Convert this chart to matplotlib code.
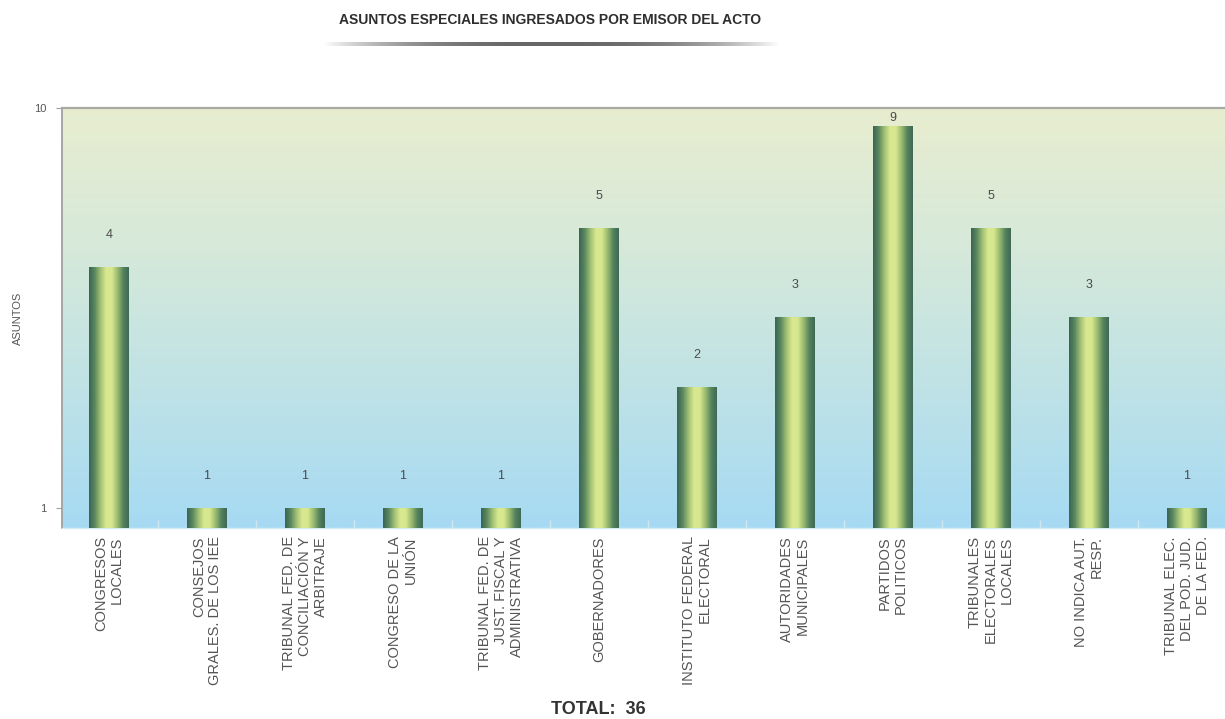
import numpy as np
import matplotlib
matplotlib.use("Agg")
import matplotlib.pyplot as plt
from matplotlib.colors import LinearSegmentedColormap

# Data
categories = [
    "CONGRESOS\nLOCALES",
    "CONSEJOS\nGRALES. DE LOS IEE",
    "TRIBUNAL FED. DE\nCONCILIACIÓN Y\nARBITRAJE",
    "CONGRESO DE LA\nUNIÓN",
    "TRIBUNAL FED. DE\nJUST. FISCAL Y\nADMINISTRATIVA",
    "GOBERNADORES",
    "INSTITUTO FEDERAL\nELECTORAL",
    "AUTORIDADES\nMUNICIPALES",
    "PARTIDOS\nPOLITICOS",
    "TRIBUNALES\nELECTORALES\nLOCALES",
    "NO INDICA AUT.\nRESP.",
    "TRIBUNAL ELEC.\nDEL POD. JUD.\nDE LA FED.",
]
asuntos = [4, 1, 1, 1, 1, 5, 2, 3, 9, 5, 3, 1]
y_ticks = [1, 10]
y_tick_labels = ["1", "10"]
title = "ASUNTOS ESPECIALES INGRESADOS POR EMISOR DEL ACTO"
y_label = "ASUNTOS"
total_label = "TOTAL:  36"

SANS = ["Liberation Sans", "DejaVu Sans"]

W, H = 1225, 719
fig = plt.figure(figsize=(W / 100, H / 100), dpi=100)
fig.patch.set_facecolor("white")

pos = [62 / W, 1 - 528 / H, 1 - 62 / W, 420 / H]

# Gradient plot background (blue at the bottom, pale yellow-green at the top)
bg_ax = fig.add_axes(pos, zorder=0)
bg_cmap = LinearSegmentedColormap.from_list(
    "bg", ["#a6daf3", "#bfe2e6", "#d6e9da", "#e8edcf"])
bg_ax.imshow(np.linspace(0, 1, 256).reshape(-1, 1), cmap=bg_cmap,
             origin="lower", aspect="auto", extent=[0, 1, 0, 1])
bg_ax.set_axis_off()

ax = fig.add_axes(pos, zorder=1)
ax.patch.set_alpha(0)
ax.set_yscale("log")
base = 0.89
top = 10
ax.set_ylim(base, top)
ax.set_xlim(-0.48, 11.39)

# Cylinder-shaded bars built from vertical strips
bar_w = 0.41
n_strips = 40
bar_cmap = LinearSegmentedColormap.from_list(
    "bar", ["#3a6452", "#5a8760", "#9fbf72", "#d8e890", "#d6e78e",
            "#9aba6f", "#55835d", "#3c6855"])
t = (np.arange(n_strips) + 0.5) / n_strips
strip_colors = [bar_cmap(v) for v in t]
span = np.log10(top) - np.log10(base)
plot_px = 420
for i, v in enumerate(asuntos):
    xs = i + (t - 0.5) * bar_w
    ax.bar(xs, [v - base] * n_strips, bottom=base,
           width=bar_w / n_strips * 1.08, color=strip_colors,
           linewidth=0, zorder=3)
    # value label above the bar, kept inside the plot frame
    frac = (np.log10(v) - np.log10(base)) / span
    off_px = min(32, max((1 - frac) * plot_px - 10, 0))
    ax.annotate(str(v), (i, v), xytext=(0, off_px * 0.72),
                textcoords="offset points", ha="center", va="center",
                fontsize=9, color="#4a4a4a", family=SANS, zorder=4)

# Axes styling
ax.spines["right"].set_visible(False)
ax.spines["top"].set_color("#a9a9a4")
ax.spines["top"].set_linewidth(1.6)
ax.spines["left"].set_color("#a0a0a0")
ax.spines["left"].set_linewidth(1.3)
ax.spines["bottom"].set_color("#d5ecf4")
ax.spines["bottom"].set_linewidth(1.0)

ax.set_yticks(y_ticks)
ax.set_yticklabels(y_tick_labels, fontsize=8, color="#555555", family=SANS)
ax.yaxis.set_minor_locator(matplotlib.ticker.NullLocator())
ax.tick_params(axis="y", length=4, color="#a0a0a0", pad=7)

ax.set_xticks(range(len(categories)))
ax.set_xticklabels(categories, rotation=90, ha="center", va="top",
                   multialignment="right", fontsize=10.5, color="#555555",
                   family=SANS, linespacing=1.2)
ax.tick_params(axis="x", length=0, pad=6)
ax.set_xticks(np.arange(len(categories) - 1) + 0.5, minor=True)
ax.tick_params(axis="x", which="minor", length=6, direction="in",
               color="#cfe8f0", width=1)

fig.text(18 / W, 1 - 318 / H, y_label, rotation=90, ha="center", va="center",
         fontsize=8, color="#555555", family=SANS)

# Title with shaded rule beneath
fig.text(550 / W, 1 - 20 / H, title, ha="center", va="center",
         fontsize=10, fontweight="bold", color="#2e2e2e", family=SANS)
rule_ax = fig.add_axes([323 / W, 1 - 46 / H, (780 - 323) / W, 4 / H])
xg = np.linspace(-1, 1, 400)
alpha = np.clip(1 - np.abs(xg) ** 2.5, 0, 1)
rgba = np.zeros((1, 400, 4))
rgba[..., :3] = 0.40
rgba[..., 3] = alpha
rule_ax.imshow(rgba, aspect="auto", extent=[0, 1, 0, 1])
rule_ax.set_axis_off()

fig.text(598 / W, 1 - 709 / H, total_label, ha="center", va="center",
         fontsize=13, fontweight="bold", color="#333333", family=SANS)

fig.savefig("out.png", dpi=100)
